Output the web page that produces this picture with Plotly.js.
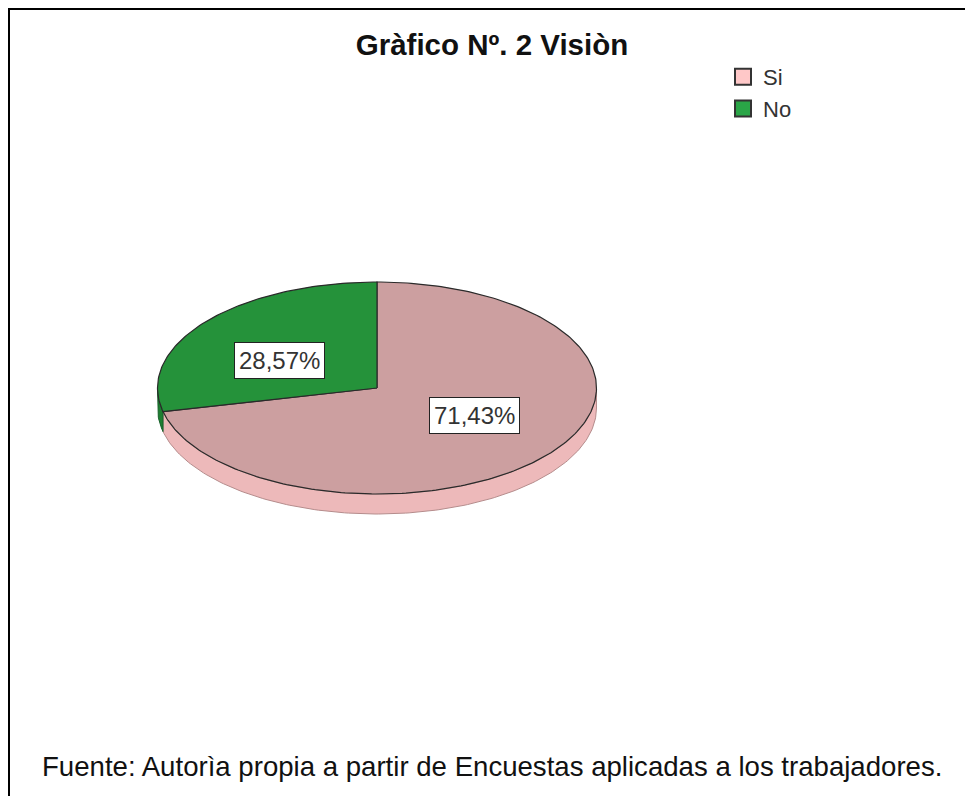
<!DOCTYPE html>
<html><head><meta charset="utf-8">
<script src="https://cdn.plot.ly/plotly-3.0.1.min.js"></script>
<style>
html,body{margin:0;padding:0;background:#fff;overflow:hidden}
#chart{position:absolute;left:0;top:0;width:965px;height:796px}
#frame{position:absolute;left:8px;top:8px;width:957px;height:788px;border-left:2px solid #000;border-top:2px solid #000;pointer-events:none}
</style></head>
<body><div id="chart"></div><div id="frame"></div>
<script>
// ---- data ----
const categories = ['Si', 'No'];
const percentages = [71.43, 28.57];
const percentLabels = ['71,43%', '28,57%'];

// ---- styles ----
const topColors = ['#cc9fa0', '#25923a'];
const wallColors = ['#edb9ba', '#1e7f31'];
const legendColors = ['#ffc8c8', '#2aa547'];

// ---- geometry of the tilted pie (pixel-like axis units) ----
const cx = 377, cy = 388, rx = 219.5, ry = 106, depth = 20;
const rad = d => d * Math.PI / 180;
function pt(theta, dy) { // theta clockwise from 12 o'clock, degrees
  return [cx + rx * Math.sin(rad(theta)), cy - ry * Math.cos(rad(theta)) + (dy || 0)];
}
function arc(a, b, dy) {
  const out = [];
  const n = Math.max(2, Math.ceil(Math.abs(b - a)));
  for (let i = 0; i <= n; i++) out.push(pt(a + (b - a) * i / n, dy));
  return out;
}

const total = percentages.reduce((s, v) => s + v, 0);
const slices = [];
let start = 0;
percentages.forEach((v, i) => {
  const span = v / total * 360;
  slices.push({a: start, b: start + span, i: i});
  start += span;
});

const traces = [];
// side walls (visible front half: 90..270 degrees)
slices.forEach(s => {
  const a = Math.max(s.a, 90), b = Math.min(s.b, 270);
  if (b <= a) return;
  const pts = arc(a, b, 0).concat(arc(b, a, depth));
  pts.push(pts[0]);
  traces.push({
    type: 'scatter', mode: 'lines', fill: 'toself',
    x: pts.map(p => p[0]), y: pts.map(p => p[1]),
    fillcolor: wallColors[s.i], line: {color: s.i === 0 ? '#b58c8c' : '#17602a', width: 1},
    showlegend: false, hoverinfo: 'skip'
  });
});
// top faces
slices.forEach(s => {
  const pts = [[cx, cy]].concat(arc(s.a, s.b, 0));
  pts.push([cx, cy]);
  traces.push({
    type: 'scatter', mode: 'lines', fill: 'toself',
    x: pts.map(p => p[0]), y: pts.map(p => p[1]),
    fillcolor: topColors[s.i], line: {color: '#2a2a2a', width: 1.2},
    showlegend: false, hoverinfo: 'skip'
  });
});
// legend entries
categories.forEach((c, i) => {
  traces.push({
    type: 'scatter', mode: 'markers', x: [null], y: [null], name: c,
    legendgroup: c,
    marker: {symbol: 'square', size: 16, color: legendColors[i], line: {color: '#333', width: 2}}
  });
});

// labels
const fx = 0.57, fy = 0.42;
const annotations = slices.map(s => {
  const m = (s.a + s.b) / 2;
  return {
    x: cx + fx * rx * Math.sin(rad(m)), y: cy - fy * ry * Math.cos(rad(m)),
    xref: 'x', yref: 'y', text: percentLabels[s.i], showarrow: false,
    font: {family: 'Liberation Sans, Arial, sans-serif', size: 24, color: '#333'},
    bgcolor: '#ffffff', bordercolor: '#222', borderwidth: 1, borderpad: 4
  };
});
annotations.push({
  x: 40, y: 766, xref: 'x', yref: 'y', xanchor: 'left', yanchor: 'middle',
  text: 'Fuente: Autorìa propia a partir de Encuestas aplicadas a los trabajadores.',
  showarrow: false,
  font: {family: 'Liberation Sans, Arial, sans-serif', size: 27.6, color: '#111'}
});

const layout = {
  width: 965, height: 796,
  margin: {l: 0, r: 0, t: 0, b: 0},
  paper_bgcolor: '#ffffff', plot_bgcolor: '#ffffff',
  title: {
    text: '<b>Gràfico Nº. 2 Visiòn</b>',
    font: {family: 'Liberation Sans, Arial, sans-serif', size: 29.5, color: '#111'},
    x: 492 / 965, xanchor: 'center', xref: 'paper',
    y: 1 - 45 / 796, yanchor: 'middle', yref: 'container'
  },
  xaxis: {range: [0, 965], visible: false, fixedrange: true},
  yaxis: {range: [796, 0], visible: false, fixedrange: true},
  showlegend: true,
  legend: {
    x: 723 / 965, y: 1 - 56 / 796, xanchor: 'left', yanchor: 'top',
    font: {family: 'Liberation Sans, Arial, sans-serif', size: 22, color: '#333'},
    bgcolor: 'rgba(0,0,0,0)', tracegroupgap: 0, itemwidth: 30
  },
  annotations: annotations
};

Plotly.newPlot('chart', traces, layout, {displayModeBar: false, staticPlot: true});
</script>
</body></html>
